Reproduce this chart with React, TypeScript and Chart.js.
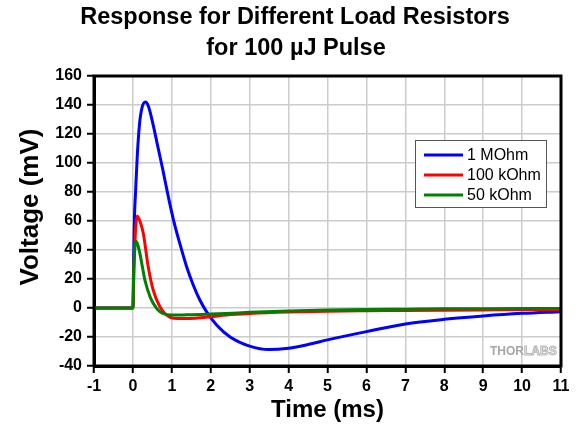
import React, { useEffect, useRef } from "react";
import { Chart, registerables } from "chart.js";

Chart.register(...registerables);

const titleLines = ["Response for Different Load Resistors", "for 100 µJ Pulse"];
const xTitle = "Time (ms)";
const yTitle = "Voltage (mV)";
const seriesLabels = ["1 MOhm", "100 kOhm", "50 kOhm"];
const seriesColors = ["#0000ff", "#ff0000", "#008000"];

const xMin = -1;
const xMax = 11;
const yMin = -40;
const yMax = 160;
const xStep = 1;
const yStep = 20;

const blueTimes = [-1, -0.5, 0, 0.02, 0.04, 0.07, 0.11, 0.17, 0.23, 0.32, 0.4, 0.51, 0.64, 0.77, 0.9, 1.04, 1.21, 1.38, 1.55, 1.72, 1.89, 2.15, 2.49, 3.0, 3.5, 4.0, 4.5, 5.0, 6, 7, 8, 9, 10, 11];
const blueValues = [0, 0, 0, 35, 63, 81, 104, 127, 137.7, 142, 139, 127.5, 111.3, 95.2, 78, 61, 44, 28.5, 15.9, 5.5, -2.5, -11.7, -19.8, -26.3, -28.7, -27.7, -25.2, -22, -16.3, -11, -7.8, -5.5, -3.7, -2.5];

const redTimes = [-1, 0, 0.03, 0.07, 0.11, 0.18, 0.27, 0.39, 0.52, 0.69, 0.85, 1.05, 1.3, 1.6, 2.0, 2.4, 3.0, 4.0, 5.0, 6, 7, 8, 9, 10, 11];
const redValues = [0, 0, 30, 55, 63.5, 60, 51, 29, 12.5, 1, -4.5, -7, -7.2, -7, -6, -4.8, -3.8, -2.8, -2.2, -1.9, -1.7, -1.5, -1.3, -1.1, -1];

const greenTimes = [-1, 0, 0.02, 0.05, 0.08, 0.12, 0.18, 0.31, 0.44, 0.55, 0.69, 0.95, 1.2, 1.5, 2.0, 2.4, 3.0, 4, 5, 6, 7, 8, 9, 10, 11];
const greenValues = [0, 0, 25, 42, 46, 44, 37.5, 19, 7.8, 2, -2.5, -4.8, -4.9, -4.6, -4.2, -3.8, -3, -2, -1.4, -1, -0.8, -0.6, -0.5, -0.4, -0.3];

const watermarkA = "THOR";
const watermarkB = "LABS";

const FONT = "Arial, 'Liberation Sans', sans-serif";

const toPoints = (xs: number[], ys: number[]) => xs.map((x, i) => ({ x, y: ys[i] }));

const decorPlugin = {
  id: "decor",
  afterDatasetsDraw(chart: any) {
    const { ctx, chartArea } = chart;
    const { left, top, right, bottom } = chartArea;
    ctx.save();
    // frame
    ctx.strokeStyle = "#000";
    ctx.lineWidth = 3;
    ctx.strokeRect(left, top, right - left, bottom - top);

    // watermark
    ctx.font = `bold 12px ${FONT}`;
    ctx.textBaseline = "middle";
    ctx.textAlign = "left";
    const wx = 490;
    const wy = 352;
    ctx.fillStyle = "#a6a6a6";
    ctx.fillText(watermarkA, wx, wy);
    const w1 = ctx.measureText(watermarkA).width;
    ctx.strokeStyle = "#b8b8b8";
    ctx.lineWidth = 1;
    ctx.fillStyle = "#f2f2f2";
    ctx.fillText(watermarkB, wx + w1, wy);
    ctx.strokeText(watermarkB, wx + w1, wy);

    // legend
    const lx = 415;
    const ly = 140;
    const lw = 131;
    const lh = 67;
    ctx.fillStyle = "#fff";
    ctx.fillRect(lx, ly, lw, lh);
    ctx.strokeStyle = "#555";
    ctx.lineWidth = 1;
    ctx.strokeRect(lx + 0.5, ly + 0.5, lw, lh);
    ctx.font = `16px ${FONT}`;
    ctx.textBaseline = "middle";
    chart.data.datasets.forEach((ds: any, i: number) => {
      const yy = 155 + i * 20;
      ctx.strokeStyle = ds.borderColor;
      ctx.lineWidth = 3;
      ctx.beginPath();
      ctx.moveTo(424, yy);
      ctx.lineTo(463, yy);
      ctx.stroke();
      ctx.fillStyle = "#000";
      ctx.fillText(ds.label, 467, yy + 1);
    });

    // title
    ctx.fillStyle = "#000";
    ctx.font = `bold 23.5px ${FONT}`;
    ctx.textAlign = "center";
    ctx.textBaseline = "middle";
    ctx.fillText(titleLines[0], 295, 18);
    ctx.fillText(titleLines[1], 296, 49);

    // y axis title
    ctx.save();
    ctx.translate(31, 207);
    ctx.rotate(-Math.PI / 2);
    ctx.font = `bold 26px ${FONT}`;
    ctx.fillText(yTitle, 0, 0);
    ctx.restore();

    ctx.restore();
  },
};

export default function App() {
  const ref = useRef<HTMLCanvasElement | null>(null);

  useEffect(() => {
    if (!ref.current) return;
    const chart = new Chart(ref.current, {
      type: "line",
      data: {
        datasets: [
          { label: seriesLabels[0], data: toPoints(blueTimes, blueValues), borderColor: seriesColors[0], order: 2 },
          { label: seriesLabels[1], data: toPoints(redTimes, redValues), borderColor: seriesColors[1], order: 1 },
          { label: seriesLabels[2], data: toPoints(greenTimes, greenValues), borderColor: seriesColors[2], order: 0 },
        ].map((d) => ({
          ...d,
          borderWidth: 3,
          pointRadius: 0,
          fill: false,
          cubicInterpolationMode: "monotone" as const,
        })),
      },
      options: {
        responsive: false,
        animation: false,
        layout: { padding: { left: 0, top: 76, right: 20, bottom: 0 } },
        plugins: {
          legend: { display: false },
          title: { display: false },
          tooltip: { enabled: false },
        },
        scales: {
          x: {
            type: "linear",
            min: xMin,
            max: xMax,
            afterFit: (s: any) => {
              s.height = 62;
            },
            ticks: {
              stepSize: xStep,
              color: "#000",
              padding: 4,
              font: { family: FONT, size: 16, weight: "bold" },
            },
            grid: { color: "#cccccc", lineWidth: 1.5, tickColor: "#000", tickLength: 7, tickWidth: 2 },
            border: { display: true, color: "#000", width: 3 },
            title: {
              display: true,
              text: xTitle,
              color: "#000",
              font: { family: FONT, size: 24, weight: "bold" },
              padding: { top: 0, bottom: 3 },
            },
          },
          y: {
            type: "linear",
            min: yMin,
            max: yMax,
            afterFit: (s: any) => {
              s.width = 94;
            },
            ticks: {
              stepSize: yStep,
              color: "#000",
              padding: 5,
              font: { family: FONT, size: 16, weight: "bold" },
            },
            grid: { color: "#cccccc", lineWidth: 1.5, tickColor: "#000", tickLength: 7, tickWidth: 2 },
            border: { display: true, color: "#000", width: 3 },
            title: { display: false },
          },
        },
      },
      plugins: [decorPlugin],
    });
    return () => chart.destroy();
  }, []);

  return (
    <div style={{ position: "absolute", left: 0, top: 0, width: 581, height: 428, background: "#fff" }}>
      <canvas ref={ref} width={581} height={428} />
    </div>
  );
}
